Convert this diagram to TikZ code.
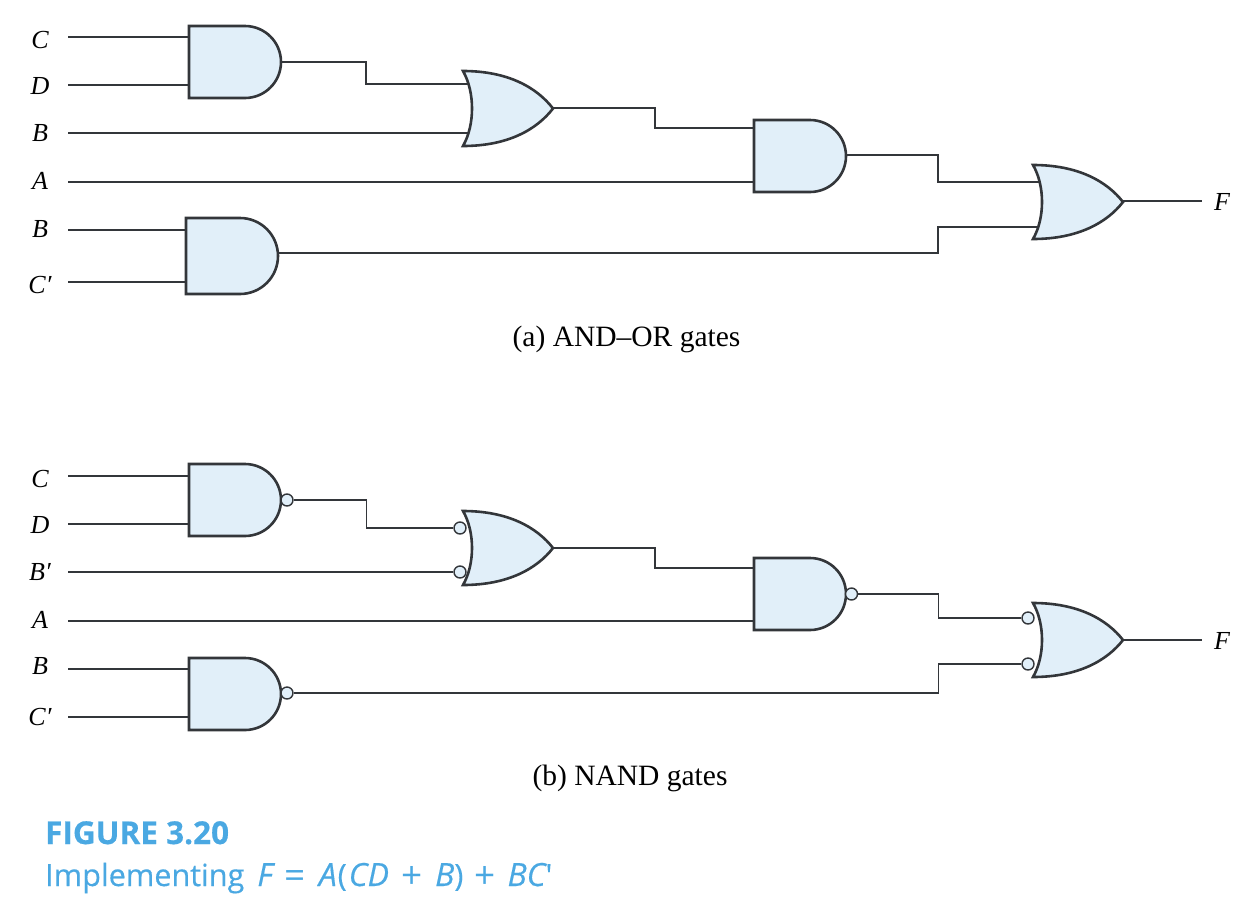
\documentclass[tikz,border=0pt]{standalone}
\usepackage{fontspec}
\setmainfont{Liberation Serif}
\newfontfamily\capfont[FakeBold=0.4]{Open Sans}
\newfontfamily\capfontb{Open Sans}
\newfontfamily\capfonth[FakeBold=0.5]{Open Sans}
\newcommand{\bigsym}[1]{\raisebox{-2.5pt}{\fontsize{37}{36}\selectfont\capfontb #1}}
\newcommand{\itm}[1]{{\fontsize{32}{36}\selectfont\itshape #1}}
\usetikzlibrary{calc}
\definecolor{gatefill}{HTML}{E1EFF9}
\definecolor{inkc}{HTML}{33363A}
\definecolor{capblue}{HTML}{4AA8E2}
\pgfdeclarelayer{front}
\pgfsetlayers{main,front}
\tikzset{
  x=1pt,y=-1pt,
  wire/.style={draw=inkc,line width=1.5pt},
  gateshape/.style={draw=inkc,fill=gatefill,line width=2.6pt,line join=miter},
  bubble/.style={circle,draw=inkc,fill=gatefill,line width=1.4pt,minimum size=12pt,inner sep=0pt},
  inlabel/.style={minimum width=56pt,inner sep=0pt,font=\fontsize{26}{30}\selectfont\itshape},
  outlabel/.style={minimum width=40pt,inner sep=0pt,font=\fontsize{26}{30}\selectfont\itshape},
  caption/.style={inner sep=0pt,font=\fontsize{29.5}{34}\selectfont},
  figtitle/.style={inner sep=0pt,anchor=base west,text=capblue},
}
% name, left, top, width, height, y of input a, y of input b
\newcommand{\andgate}[7]{%
  \begin{pgfonlayer}{front}
  \draw[gateshape] (#2,#3) -- ({#2+#4-#5/2},#3)
    .. controls ({#2+#4-#5/2+0.552*#5/2},#3) and ({#2+#4},{#3+#5/2-0.552*#5/2}) .. ({#2+#4},{#3+#5/2})
    .. controls ({#2+#4},{#3+#5/2+0.552*#5/2}) and ({#2+#4-#5/2+0.552*#5/2},{#3+#5}) .. ({#2+#4-#5/2},{#3+#5})
    -- (#2,{#3+#5}) -- cycle;
  \end{pgfonlayer}
  \coordinate (#1-a) at (#2,#6);
  \coordinate (#1-b) at (#2,#7);
  \coordinate (#1-o) at ({#2+#4},{#3+#5/2});
}
\newcommand{\orgate}[7]{%
  \begin{pgfonlayer}{front}
  \draw[gateshape] (#2,#3)
    .. controls ({#2+0.50*#4},#3) and ({#2+0.82*#4},{#3+0.22*#5}) .. ({#2+#4},{#3+#5/2})
    .. controls ({#2+0.82*#4},{#3+0.78*#5}) and ({#2+0.50*#4},{#3+#5}) .. (#2,{#3+#5})
    .. controls ({#2+12},{#3+0.72*#5}) and ({#2+12},{#3+0.28*#5}) .. cycle;
  \end{pgfonlayer}
  \coordinate (#1-a) at ({#2+6},#6);
  \coordinate (#1-b) at ({#2+6},#7);
  \coordinate (#1-o) at ({#2+#4},{#3+#5/2});
}
\newcommand{\bub}[3]{%
  \begin{pgfonlayer}{front}\node[bubble] (#1) at (#2,#3) {};\end{pgfonlayer}%
}
\begin{document}
\begin{tikzpicture}
\useasboundingbox (0,0) rectangle (1255,916);
% ---------- (a)
\node[inlabel] (aC)  at (40,40)  {C};
\node[inlabel] (aD)  at (40,86)  {D};
\node[inlabel] (aB)  at (40,133) {B};
\node[inlabel] (aA)  at (40,181) {A};
\node[inlabel] (aB2) at (40,229) {B};
\node[inlabel] (aCp) at (40,285) {C′};
\node[outlabel] (aF) at (1222,202) {F};
\andgate{a1}{189}{26}{92}{72}{37}{85}
\orgate{a2}{463}{71}{90}{75}{84}{133}
\coordinate (a2-o) at (553,108);
\andgate{a3}{754}{120}{92}{72}{128}{182}
\coordinate (a3-o) at (846,155);
\orgate{a4}{1033}{165}{90}{74}{182}{227}
\coordinate (a4-o) at (1123,201);
\andgate{a5}{186}{218}{92}{76}{230}{282}
\coordinate (a5-o) at (278,253);
\draw[wire] (aC.east |- a1-a) -- (a1-a);
\draw[wire] (aD.east |- a1-b) -- (a1-b);
\draw[wire] (aB.east |- a2-b) -- (a2-b);
\draw[wire] (aA.east |- a3-b) -- (a3-b);
\draw[wire] (aB2.east |- a5-a) -- (a5-a);
\draw[wire] (aCp.east |- a5-b) -- (a5-b);
\draw[wire] (a1-o) -- ++(85,0) |- (a2-a);
\draw[wire] (a2-o) -- ++(102,0) |- (a3-a);
\draw[wire] (a3-o) -- ++(92,0) |- (a4-a);
\draw[wire] (a5-o) -- ++(660,0) |- (a4-b);
\draw[wire] (a4-o) -- (aF.west |- a4-o);
\node[caption] (capa) at (626.5,339) {(a) AND–OR gates};
% ---------- (b)
\node[inlabel] (bC)  at (40,479) {C};
\node[inlabel] (bD)  at (40,525) {D};
\node[inlabel] (bB)  at (40,572) {B′};
\node[inlabel] (bA)  at (40,620) {A};
\node[inlabel] (bB2) at (40,666) {B};
\node[inlabel] (bCp) at (40,717) {C′};
\node[outlabel] (bF) at (1222,641) {F};
\andgate{b1}{189}{464}{92}{72}{476}{524}
\orgate{b2}{463}{511}{90}{74}{528}{572}
\andgate{b3}{754}{558}{92}{72}{568}{621}
\orgate{b4}{1033}{603}{90}{74}{618}{664}
\andgate{b5}{189}{658}{92}{72}{669}{717}
\bub{n1}{287}{500}
\bub{n2a}{460}{528}
\bub{n2b}{460}{572}
\bub{n3}{851.5}{594}
\bub{n4a}{1028}{618}
\bub{n4b}{1028}{664}
\bub{n5}{287}{693}
\draw[wire] (bC.east |- b1-a) -- (b1-a);
\draw[wire] (bD.east |- b1-b) -- (b1-b);
\draw[wire] (bB.east |- n2b) -- (n2b.west);
\draw[wire] (bA.east |- b3-b) -- (b3-b);
\draw[wire] (bB2.east |- b5-a) -- (b5-a);
\draw[wire] (bCp.east |- b5-b) -- (b5-b);
\draw[wire] (n1.east) -- ++(73,0) |- (n2a.west);
\draw[wire] (b2-o) -- ++(102,0) |- (b3-a);
\draw[wire] (n3.east) -- ++(80.5,0) |- (n4a.west);
\draw[wire] (n5.east) -- ++(645,0) |- (n4b.west);
\draw[wire] (b4-o) -- (bF.west |- b4-o);
\node[caption] (capb) at (630,778) {(b) NAND gates};
% ---------- caption
\node[figtitle,font=\fontsize{31.5}{36}\selectfont\capfonth\bfseries] (t1) at (45,844) {FIGURE 3.20};
\node[figtitle,font=\fontsize{30.6}{36}\selectfont\capfont] (t2) at (45,886) {Implementing\hspace{13pt}\itm{F}\hspace{12pt}\bigsym{=}\hspace{13pt}\itm{A}\hspace{1pt}(\hspace{2pt}\itm{CD}\hspace{13pt}\bigsym{+}\hspace{12pt}\itm{B})\hspace{11pt}\bigsym{+}\hspace{12pt}\itm{BC}′};
\end{tikzpicture}
\end{document}
